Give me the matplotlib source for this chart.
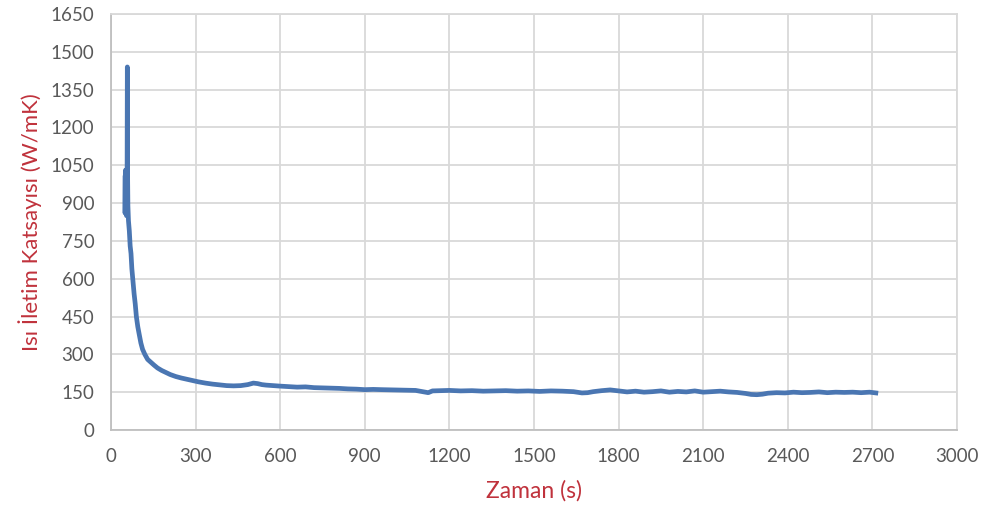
import matplotlib
matplotlib.use("Agg")
from matplotlib import pyplot as plt

# values (time in s, conductivity in W/mK)
time_s = [50, 50, 51, 52, 53, 55, 57, 58, 59, 60, 62, 65, 68, 71, 74, 78, 82, 86,
          90, 95, 100, 106, 112, 120, 130, 140, 152, 165, 180, 195, 210, 230, 250,
          270, 290, 310, 335, 360, 385, 410, 435, 460, 485, 505, 520, 535, 550, 575,
          600, 630, 660, 690, 720, 750, 780, 810, 840, 870, 900, 930, 960, 1000,
          1040, 1080, 1110, 1125, 1140, 1170, 1200, 1240, 1280, 1320, 1360, 1400,
          1440, 1480, 1520, 1560, 1600, 1640, 1670, 1690, 1710, 1740, 1770, 1800,
          1830, 1860, 1890, 1920, 1950, 1980, 2010, 2040, 2070, 2100, 2130, 2160,
          2190, 2220, 2250, 2270, 2290, 2310, 2330, 2360, 2390, 2420, 2450, 2480,
          2510, 2540, 2570, 2600, 2630, 2660, 2690, 2712]
conductivity = [1000, 860, 1030, 880, 990, 850, 920, 1440, 1000, 890, 830, 790, 730,
                700, 640, 590, 540, 500, 450, 410, 380, 345, 320, 300, 280, 270, 258,
                246, 236, 228, 220, 212, 206, 201, 196, 191, 186, 182, 179, 176, 175,
                176, 180, 186, 184, 180, 178, 176, 174, 172, 170, 171, 168, 167, 166,
                165, 163, 162, 160, 161, 160, 159, 158, 157, 151, 148, 155, 156, 157,
                155, 156, 154, 155, 156, 154, 155, 153, 155, 154, 152, 147, 148, 152,
                156, 159, 155, 151, 154, 150, 152, 155, 150, 153, 151, 155, 150, 152,
                154, 151, 149, 145, 141, 140, 142, 146, 148, 147, 150, 148, 149, 151,
                148, 150, 149, 150, 148, 150, 147]

red = "#c0323c"
gray_text = "#595959"
grid_col = "#d9d9d9"

plt.rcParams['font.family'] = ['Lato', 'DejaVu Sans']

fig = plt.figure(figsize=(9.83, 5.17), dpi=100)
ax = fig.add_axes([0.1129, 0.1683, 0.8607, 0.8046])

ax.plot(time_s, conductivity, color="#4a76b2", linewidth=3.4, solid_joinstyle='round')

ax.set_xlim(0, 3000)
ax.set_ylim(0, 1650)
ax.set_xticks(range(0, 3001, 300))
ax.set_yticks(range(0, 1651, 150))
ax.grid(True, color=grid_col, linewidth=1.3)
ax.set_axisbelow(True)
for side in ax.spines.values():
    side.set_color(grid_col)
    side.set_linewidth(1.3)
ax.spines['left'].set_color("#bfbfbf")
ax.spines['bottom'].set_color("#bfbfbf")
ax.tick_params(length=0, labelsize=13.5, colors=gray_text, pad=12)
ax.tick_params(axis='x', pad=13)

ax.set_xlabel("Zaman (s)", color=red, fontsize=16.5, labelpad=11)
ax.set_ylabel("Isı İletim Katsayısı (W/mK)", color=red, fontsize=16, labelpad=6)

fig.savefig("out.png", dpi=100)
